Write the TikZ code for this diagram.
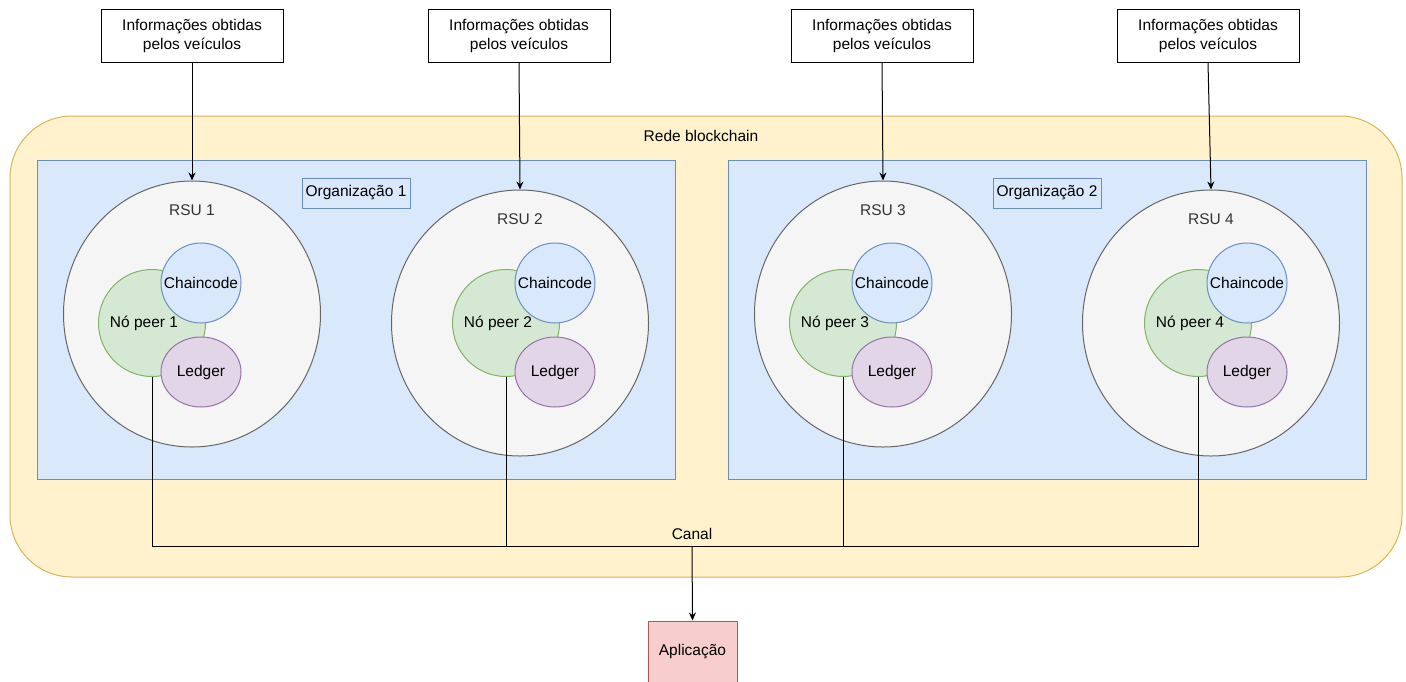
\documentclass[tikz,border=0pt]{standalone}
\usepackage{fontspec}
\setmainfont{Liberation Sans}
\usepackage{xcolor}
\usetikzlibrary{shapes, positioning, arrows.meta}

\definecolor{redefill}{HTML}{FFF2CC}
\definecolor{redeline}{HTML}{D6B656}
\definecolor{orgfill}{HTML}{DAE8FC}
\definecolor{orgline}{HTML}{6C8EBF}
\definecolor{rsufill}{HTML}{F5F5F5}
\definecolor{rsuline}{HTML}{666666}
\definecolor{peerfill}{HTML}{D5E8D4}
\definecolor{peerline}{HTML}{82B366}
\definecolor{ledgfill}{HTML}{E1D5E7}
\definecolor{ledgline}{HTML}{9673A6}
\definecolor{appfill}{HTML}{F8CECC}
\definecolor{appline}{HTML}{B85450}

\tikzset{
    infobox/.style={draw, fill=white, minimum width=182pt, minimum height=53pt, inner sep=0pt, align=center},
    orgbox/.style={draw=orgline, fill=orgfill, minimum width=638pt, minimum height=319pt, inner sep=0pt},
    orgtag/.style={draw=orgline, fill=orgfill, minimum width=108pt, minimum height=30pt, inner sep=0pt},
    rsu/.style={ellipse, draw=rsuline, fill=rsufill, minimum width=257pt, minimum height=266pt, inner sep=0pt},
    peer/.style={circle, draw=peerline, fill=peerfill, minimum size=107pt, inner sep=0pt},
    chain/.style={circle, draw=orgline, fill=orgfill, minimum size=80pt, inner sep=0pt},
    ledger/.style={ellipse, draw=ledgline, fill=ledgfill, minimum width=80pt, minimum height=70pt, inner sep=0pt},
    flow/.style={-{Stealth[length=8pt, width=7pt]}}
}

\begin{document}
\begin{tikzpicture}[x=1pt, y=-1pt, line width=1pt, font=\fontsize{15.5}{19}\selectfont]
        \useasboundingbox (0, 0) rectangle (1406, 681);

        \node[draw=redeline, fill=redefill, rounded corners=62pt, minimum width=1392pt, minimum height=461pt] (rede) at (706, 346.5) {};
        \node (redelbl) at (701, 136) {Rede blockchain};

        \node[orgbox] (org1) at (356, 319.5) {};
        \node[orgbox] (org2) at (1047, 319.5) {};
        \node[orgtag] (tag1) at (356, 193) {Organização 1};
        \node[orgtag] (tag2) at (1047, 193) {Organização 2};

        \foreach \i/\bx/\rx/\ry/\px in {1/192/192/314/152, 2/519/520/323/506, 3/882/883/314/843, 4/1208/1211/323/1198} {
            \node[infobox] (info\i) at (\bx, 35.5) {Informações obtidas\\pelos veículos};
            \node[rsu, label={[anchor=center, yshift=-30pt, text=black!80]north:RSU \i}] (rsu\i) at (\rx, \ry) {};
            \node[peer, label={[xshift=-8pt]center:Nó peer \i}] (peer\i) at (\px, 323) {};
            \node[chain] (chain\i) at (\px+49, 283) {Chaincode};
            \node[ledger] (ledger\i) at (\px+49, 372) {Ledger};
            \draw[flow] (info\i.south) -- (rsu\i.north);
        }

        \node (canal) at (692, 534) {Canal};
        \coordinate (bus) at (692, 546);
        \node[draw=appline, fill=appfill, minimum width=89pt, minimum height=62pt, inner sep=0pt] (app) at (692.5, 652) {Aplicação};

        \draw (peer1.south) |- (peer4.south |- bus) -- (peer4.south);
        \draw (peer2.south) -- (peer2.south |- bus)
            (peer3.south) -- (peer3.south |- bus);
        \draw[flow] (bus) -- (app.north);
    \end{tikzpicture}
\end{document}
